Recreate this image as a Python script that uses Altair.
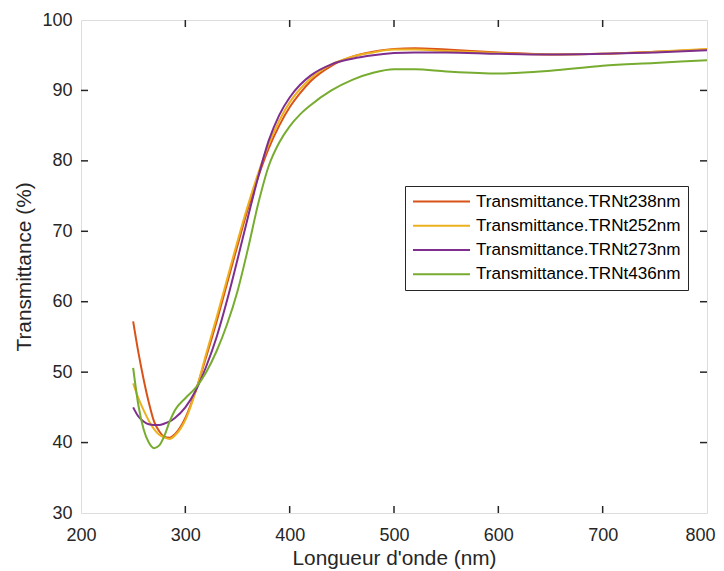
import altair as alt
import pandas as pd

wavelength = [250, 255, 260, 265, 270, 275, 280, 285, 290, 300, 310, 320, 330, 340, 350, 360, 370, 380,
              390, 400, 410, 420, 440, 460, 480, 500, 520, 550, 600, 650, 700, 750, 800]

t238 = [57.2, 52.8, 49.0, 45.7, 43.0, 41.6, 40.8, 40.7, 41.2, 43.5, 47.4, 52.2, 57.2, 62.6, 68.0, 73.2,
        77.8, 81.8, 85.0, 87.6, 89.6, 91.3, 93.5, 94.8, 95.5, 95.9, 96.0, 95.8, 95.4, 95.1, 95.2, 95.5, 95.8]
t252 = [48.4, 46.3, 44.6, 43.1, 41.9, 41.1, 40.7, 40.5, 41.0, 43.2, 47.3, 52.6, 57.8, 63.2, 68.6, 73.7,
        78.3, 82.4, 85.7, 88.3, 90.2, 91.7, 93.7, 94.8, 95.4, 95.8, 95.8, 95.6, 95.3, 95.1, 95.2, 95.5, 95.9]
t273 = [45.0, 43.7, 43.0, 42.6, 42.5, 42.5, 42.7, 43.0, 43.5, 45.0, 47.4, 50.8, 55.0, 60.2, 66.0, 72.0,
        77.8, 82.9, 86.5, 89.0, 90.8, 92.1, 93.7, 94.5, 95.0, 95.3, 95.4, 95.4, 95.2, 95.1, 95.2, 95.4, 95.7]
t436 = [50.6, 45.3, 41.9, 40.0, 39.2, 39.6, 41.0, 43.0, 44.6, 46.3, 47.8, 50.0, 53.0, 56.8, 61.5, 67.5,
        74.0, 79.3, 82.6, 84.9, 86.6, 87.9, 90.0, 91.5, 92.5, 93.0, 93.0, 92.7, 92.4, 92.8, 93.5, 93.9, 94.3]

series_names = ["Transmittance.TRNt238nm", "Transmittance.TRNt252nm",
                "Transmittance.TRNt273nm", "Transmittance.TRNt436nm"]
series_values = [t238, t252, t273, t436]
series_colors = ["#D95319", "#EDB120", "#7E2F8E", "#77AC30"]

x_ticks = [300, 400, 500, 600, 700]
y_ticks = [40, 50, 60, 70, 80, 90]

W, H = 626, 493

rows = []
for name, vals in zip(series_names, series_values):
    for w, v in zip(wavelength, vals):
        rows.append({"wl": w, "T": v, "serie": name})
df = pd.DataFrame(rows)

xscale = alt.Scale(domain=[200, 800], nice=False)
yscale = alt.Scale(domain=[30, 100], nice=False)
FONT = "Liberation Sans"

lines = alt.Chart(df).mark_line(strokeWidth=2, interpolate="monotone").encode(
    x=alt.X("wl:Q", scale=xscale,
            axis=alt.Axis(title="Longueur d'onde (nm)", values=[200, 300, 400, 500, 600, 700, 800],
                          ticks=False, domain=False, grid=False, labelPadding=13,
                          labelFontSize=18, titleFontSize=20.8, titlePadding=4, titleFontWeight="normal",
                          labelColor="#262626", titleColor="#262626", labelFont=FONT, titleFont=FONT,
                          labelFlush=False,
                          labelOffset={"condition": {"test": "datum.value == 800", "value": -7}, "value": 0})),
    y=alt.Y("T:Q", scale=yscale,
            axis=alt.Axis(title="Transmittance (%)", values=[30, 40, 50, 60, 70, 80, 90, 100],
                          ticks=False, domain=False, grid=False, labelPadding=9,
                          labelFontSize=18, titleFontSize=20.8, titlePadding=7, titleFontWeight="normal",
                          labelColor="#262626", titleColor="#262626", labelFont=FONT, titleFont=FONT)),
    color=alt.Color("serie:N", scale=alt.Scale(domain=series_names, range=series_colors),
                    legend=alt.Legend(title=None, orient="none", legendX=324, legendY=166,
                                      symbolType="stroke", symbolSize=3249, symbolStrokeWidth=2,
                                      labelFontSize=17.1, labelFont=FONT, labelColor="#000000",
                                      labelOffset=5, rowPadding=5.2, padding=7, clipHeight=17.1,
                                      labelLimit=0,
                                      strokeColor="#262626", fillColor="#ffffff")),
)

xt = pd.DataFrame({"v": x_ticks})
yt = pd.DataFrame({"v": y_ticks})
TK = 7
tick_style = dict(color="#262626", strokeWidth=1.5)
xb = alt.Chart(xt).mark_rule(**tick_style).encode(x=alt.X("v:Q", scale=xscale), y=alt.value(H), y2=alt.value(H - TK))
xtop = alt.Chart(xt).mark_rule(**tick_style).encode(x=alt.X("v:Q", scale=xscale), y=alt.value(0), y2=alt.value(TK))
yl = alt.Chart(yt).mark_rule(**tick_style).encode(y=alt.Y("v:Q", scale=yscale), x=alt.value(0), x2=alt.value(TK))
yr = alt.Chart(yt).mark_rule(**tick_style).encode(y=alt.Y("v:Q", scale=yscale), x=alt.value(W), x2=alt.value(W - TK))

chart = alt.layer(lines, xb, xtop, yl, yr).properties(
    width=W, height=H,
    autosize=alt.AutoSizeParams(type="none"),
    padding={"left": 73, "top": 12, "right": 9, "bottom": 57},
).configure_view(stroke="#262626", strokeWidth=1.5).configure(background="#ffffff")

chart.save("out.html", embed_options={"renderer": "svg", "actions": False})
